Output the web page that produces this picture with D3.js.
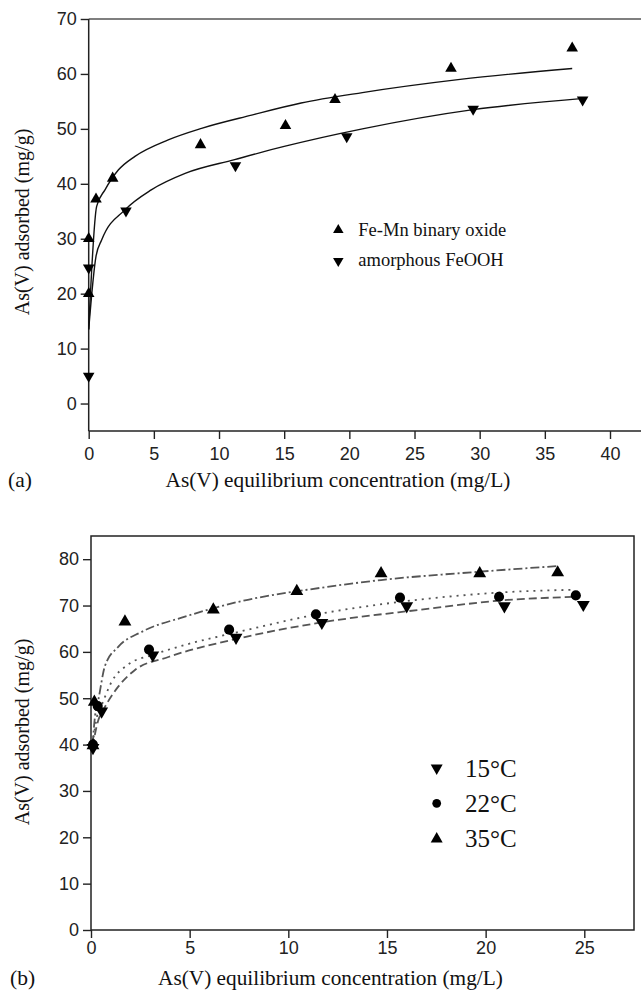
<!DOCTYPE html>
<html><head><meta charset="utf-8">
<script src="https://cdn.jsdelivr.net/npm/d3@7"></script>
<style>
body{margin:0;background:#fff}
.tick text{font-family:"Liberation Sans",Arial,sans-serif;font-size:18px;fill:#222}
.ttl{font-family:"Liberation Serif","Times New Roman",serif;fill:#111}
</style>
</head><body>
<svg id="c" width="641" height="990"></svg>
<script>
// ---------- Panel (a) data ----------
const aXTicks = [0, 5, 10, 15, 20, 25, 30, 35, 40];
const aYTicks = [0, 10, 20, 30, 40, 50, 60, 70];
const feMnC = [0, 0, 0.56, 1.84, 8.58, 15.1, 18.9, 27.8, 37.1];
const feMnQ = [20, 30, 37.2, 41.0, 47.1, 50.6, 55.3, 61.0, 64.7];
const feoohC = [0, 0, 2.86, 11.26, 19.8, 29.5, 37.9];
const feoohQ = [5, 24.7, 35.1, 43.3, 48.6, 53.6, 55.3];
const feMnFitC = [0, 0.61, 1.25, 2.27, 3.55, 6.1, 8.66, 12.5, 16.3, 21.0, 28.5, 37.1];
const feMnFitQ = [13.5, 35.9, 38.9, 42.5, 45.0, 48.0, 50.1, 52.5, 54.7, 56.6, 59.0, 61.0];
const feoohFitC = [0, 0.56, 1.0, 2.8, 4.8, 7.4, 11.2, 15.0, 21.0, 29.5, 38.2];
const feoohFitQ = [13.5, 26.8, 29.8, 35.3, 38.9, 41.9, 44.4, 46.8, 50.0, 53.5, 55.6];
const aLegend = ["Fe-Mn binary oxide", "amorphous FeOOH"];

// ---------- Panel (b) data ----------
const bXTicks = [0, 5, 10, 15, 20, 25];
const bYTicks = [0, 10, 20, 30, 40, 50, 60, 70, 80];
const t15C = [0.1, 0.54, 3.13, 7.35, 11.7, 16.0, 20.95, 24.95];
const t15Q = [39.3, 47.2, 59.3, 63.1, 66.3, 69.9, 69.9, 70.2];
const t22C = [0.1, 0.34, 2.94, 7.0, 11.4, 15.66, 20.68, 24.57];
const t22Q = [40.0, 48.3, 60.5, 64.8, 68.1, 71.7, 71.9, 72.2];
const t35C = [0.1, 0.17, 1.72, 6.2, 10.43, 14.7, 19.7, 23.65];
const t35Q = [39.8, 49.2, 66.5, 69.1, 73.1, 76.9, 76.9, 77.1];
const f15C = [0.08, 0.35, 0.63, 1.38, 2.23, 3.92, 7.47, 11.6, 16.7, 21.1, 24.8];
const f15Q = [39.5, 45.0, 47.5, 52.5, 56.1, 58.9, 62.9, 66.3, 69.1, 71.2, 71.9];
const f22C = [0.08, 0.3, 0.54, 1.04, 1.89, 3.08, 4.76, 7.47, 11.6, 16.7, 21.1, 24.45];
const f22Q = [40.0, 46.0, 48.5, 53.5, 57.3, 59.3, 61.5, 64.3, 68.2, 71.3, 72.9, 73.4];
const f35C = [0.08, 0.2, 0.37, 0.71, 1.38, 2.56, 4.76, 7.47, 11.6, 14.7, 19.7, 23.6];
const f35Q = [40.0, 46.0, 49.6, 57.0, 61.1, 64.3, 67.6, 70.8, 73.8, 75.5, 77.3, 78.5];
const bLegend = ["15°C", "22°C", "35°C"];

const xTitle = "As(V) equilibrium concentration (mg/L)";
const yTitle = "As(V) adsorbed (mg/g)";

const svg = d3.select("#c");
const zip = (a, b) => a.map((v, i) => [v, b[i]]);
const axisColor = "#222";

function styleAxis(g) {
  g.select(".domain").remove();
  g.selectAll(".tick line").attr("stroke", axisColor).attr("stroke-width", 1.4);
}

// ================= Panel (a) =================
const ax = d3.scaleLinear().domain([0, 40]).range([88.7, 610]);
const ay = d3.scaleLinear().domain([-5, 70]).range([431, 19]);
const ga = svg.append("g");

ga.append("g").attr("transform", "translate(0,431)")
  .call(d3.axisBottom(ax).tickValues(aXTicks).tickSize(8).tickPadding(8).tickSizeOuter(0))
  .call(styleAxis);
ga.append("g").attr("transform", "translate(88.7,0)")
  .call(d3.axisLeft(ay).tickValues(aYTicks).tickSize(8).tickPadding(4).tickSizeOuter(0))
  .call(styleAxis);
// frame lines
ga.append("line").attr("x1", ax(0)).attr("x2", 641).attr("y1", 431).attr("y2", 431)
  .attr("stroke", axisColor).attr("stroke-width", 1.5);
ga.append("line").attr("x1", ax(0)).attr("x2", 641).attr("y1", ay(70)).attr("y2", ay(70))
  .attr("stroke", "#555").attr("stroke-width", 1.3);
ga.append("line").attr("x1", ax(0)).attr("x2", ax(0)).attr("y1", ay(70)).attr("y2", 431)
  .attr("stroke", axisColor).attr("stroke-width", 1.5);

const aLine = d3.line().x(d => ax(d[0])).y(d => ay(d[1])).curve(d3.curveMonotoneX);
ga.append("path").attr("d", aLine(zip(feMnFitC, feMnFitQ)))
  .attr("fill", "none").attr("stroke", "#111").attr("stroke-width", 1.4);
ga.append("path").attr("d", aLine(zip(feoohFitC, feoohFitQ)))
  .attr("fill", "none").attr("stroke", "#111").attr("stroke-width", 1.4);

const triA = d3.symbol().type(d3.symbolTriangle).size(58);
ga.selectAll(".pu").data(zip(feMnC, feMnQ)).join("path")
  .attr("d", triA).attr("fill", "#000")
  .attr("transform", d => `translate(${ax(d[0])},${ay(d[1])})`);
ga.selectAll(".pd").data(zip(feoohC, feoohQ)).join("path")
  .attr("d", triA).attr("fill", "#000")
  .attr("transform", d => `translate(${ax(d[0])},${ay(d[1])}) rotate(180)`);

// legend (a)
const triLegA = d3.symbol().type(d3.symbolTriangle).size(48);
ga.append("path").attr("d", triLegA).attr("fill", "#000").attr("transform", "translate(338.3,230)");
ga.append("path").attr("d", triLegA).attr("fill", "#000").attr("transform", "translate(338.3,261) rotate(180)");
ga.selectAll(".la").data(aLegend).join("text").attr("class", "ttl")
  .attr("x", 358.3).attr("y", (d, i) => 235.5 + i * 30)
  .attr("font-size", 18.5).text(d => d);

ga.append("text").attr("class", "ttl").attr("x", 8).attr("y", 487).attr("font-size", 21.5).text("(a)");
ga.append("text").attr("class", "ttl").attr("x", 165.5).attr("y", 487).attr("font-size", 21.3).text(xTitle);
ga.append("text").attr("class", "ttl").attr("font-size", 20).attr("text-anchor", "middle")
  .attr("transform", "translate(29,222) rotate(-90)").text(yTitle);

// ================= Panel (b) =================
const bx = d3.scaleLinear().domain([0, 25]).range([91, 584.3]);
const by = d3.scaleLinear().domain([0, 85]).range([930, 536]);
const gb = svg.append("g");

gb.append("g").attr("transform", "translate(0,930)")
  .call(d3.axisBottom(bx).tickValues(bXTicks).tickSize(8).tickPadding(3).tickSizeOuter(0))
  .call(styleAxis);
gb.append("g").attr("transform", "translate(91,0)")
  .call(d3.axisLeft(by).tickValues(bYTicks).tickSize(8).tickPadding(4).tickSizeOuter(0))
  .call(styleAxis);
gb.append("rect").attr("x", 91).attr("y", 536).attr("width", 634 - 91).attr("height", 930 - 536)
  .attr("fill", "none").attr("stroke", axisColor).attr("stroke-width", 1.5);

const bLine = d3.line().x(d => bx(d[0])).y(d => by(d[1])).curve(d3.curveMonotoneX);
const fitStyle = [
  {c: f15C, q: f15Q, dash: "8,4"},
  {c: f22C, q: f22Q, dash: "2,5"},
  {c: f35C, q: f35Q, dash: "9,3,2,3"}
];
fitStyle.forEach(f => {
  gb.append("path").attr("d", bLine(zip(f.c, f.q)))
    .attr("fill", "none").attr("stroke", "#555").attr("stroke-width", 1.8)
    .attr("stroke-dasharray", f.dash);
});

const triB = d3.symbol().type(d3.symbolTriangle).size(72);
const circB = d3.symbol().type(d3.symbolCircle).size(80);
gb.selectAll(".b15").data(zip(t15C, t15Q)).join("path").attr("d", triB).attr("fill", "#000")
  .attr("transform", d => `translate(${bx(d[0])},${by(d[1])}) rotate(180)`);
gb.selectAll(".b22").data(zip(t22C, t22Q)).join("path").attr("d", circB).attr("fill", "#000")
  .attr("transform", d => `translate(${bx(d[0])},${by(d[1])})`);
gb.selectAll(".b35").data(zip(t35C, t35Q)).join("path").attr("d", triB).attr("fill", "#000")
  .attr("transform", d => `translate(${bx(d[0])},${by(d[1])})`);

// legend (b)
const triLegB = d3.symbol().type(d3.symbolTriangle).size(62);
const circLegB = d3.symbol().type(d3.symbolCircle).size(60);
gb.append("path").attr("d", triLegB).attr("fill", "#000").attr("transform", "translate(436.7,768) rotate(180)");
gb.append("path").attr("d", circLegB).attr("fill", "#000").attr("transform", "translate(436.7,803.3)");
gb.append("path").attr("d", triLegB).attr("fill", "#000").attr("transform", "translate(436.7,839)");
gb.selectAll(".lb").data(bLegend).join("text").attr("class", "ttl")
  .attr("x", 465).attr("y", (d, i) => 776.5 + i * 35.3)
  .attr("font-size", 25).text(d => d);

gb.append("text").attr("class", "ttl").attr("x", 10).attr("y", 984.5).attr("font-size", 21.5).text("(b)");
gb.append("text").attr("class", "ttl").attr("x", 158).attr("y", 984.5).attr("font-size", 21.3).text(xTitle);
gb.append("text").attr("class", "ttl").attr("font-size", 20).attr("text-anchor", "middle")
  .attr("transform", "translate(29,732) rotate(-90)").text(yTitle);
</script>
</body></html>
